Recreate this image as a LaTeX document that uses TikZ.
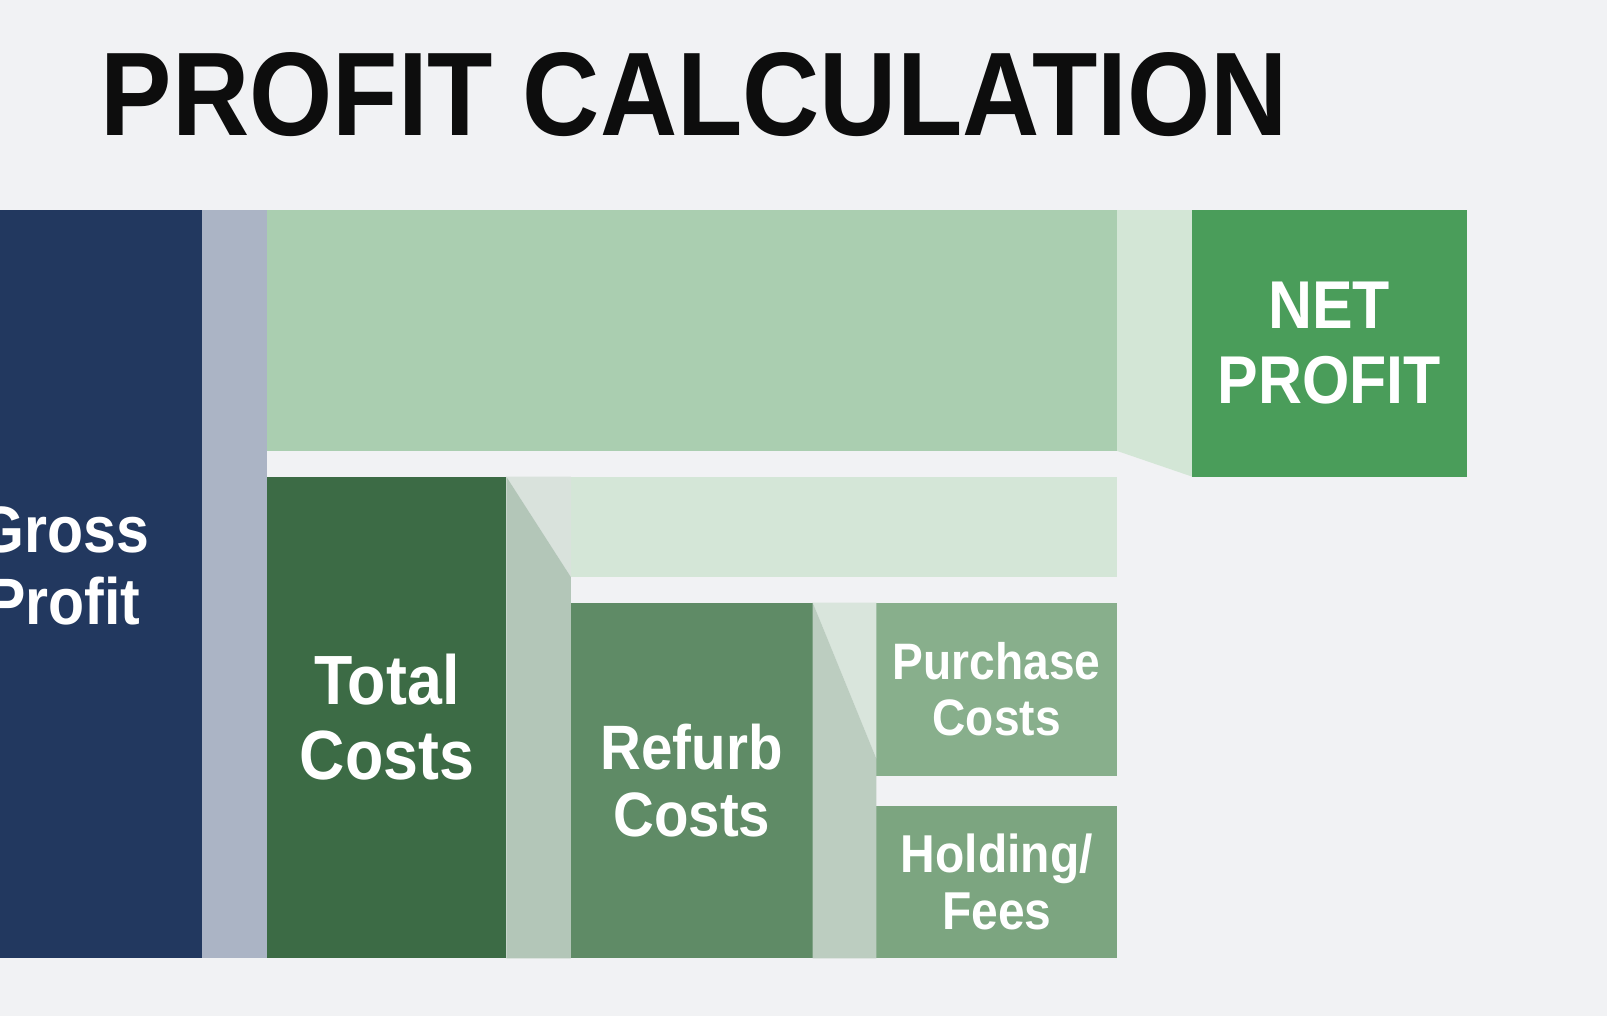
\documentclass[tikz,border=0pt]{standalone}
\usepackage{fontspec}
\newfontfamily\flowfont[FakeStretch=0.9]{Liberation Sans}

\definecolor{pagebg}{HTML}{F1F2F4}
\definecolor{grossblue}{HTML}{22385F}
\definecolor{grossflow}{HTML}{ABB4C5}
\definecolor{netband}{HTML}{AACEB0}
\definecolor{netflow}{HTML}{D3E6D6}
\definecolor{netgreen}{HTML}{4A9D5A}
\definecolor{totalgreen}{HTML}{3C6B45}
\definecolor{costband}{HTML}{D4E6D7}
\definecolor{costwedge}{HTML}{D9E2DC}
\definecolor{costflow}{HTML}{B3C6B8}
\definecolor{refurbgreen}{HTML}{5F8B66}
\definecolor{refurbwedge}{HTML}{D9E5DC}
\definecolor{refurbflow}{HTML}{BCCDC0}
\definecolor{purchgreen}{HTML}{88AF8C}
\definecolor{holdgreen}{HTML}{7CA580}

\begin{document}
\begin{tikzpicture}[x=.5pt, y=-.5pt,
	blk/.style 2 args = {inner sep=0pt, outer sep=0pt, anchor=north west, align=center,
		text=white, minimum width=#1*.5pt, minimum height=#2*.5pt},
	lbl/.style 2 args = {font=\flowfont\bfseries\fontsize{#1}{#2}\selectfont}]
	\clip (0,0) rectangle (1568,991);
	\fill[pagebg] (0,0) rectangle (1568,991);

	\node[anchor=base west, inner sep=0pt, lbl={58}{61}, text=black!95] (title) at (98,132) {PROFIT CALCULATION};

	%boxes
	\node[blk={269}{730}, fill=grossblue] (gross) at (-72,205) {};
	\node[lbl={32}{35}, text=white, align=center] (grosstext) at (62,552) {Gross\\Profit};
	\node[blk={829}{235}, fill=netband] (band1) at (261,205) {};
	\node[blk={268}{260}, fill=netgreen, lbl={33}{36.5}] (netprofit) at (1163,205) {NET\\PROFIT};
	\node[blk={233}{470}, fill=totalgreen, lbl={34}{36.5}] (total) at (261,465) {Total\\Costs};
	\node[blk={533}{98}, fill=costband] (band2) at (557,465) {};
	\node[blk={236}{347}, fill=refurbgreen, lbl={30.6}{32.5}] (refurb) at (557,588) {Refurb\\Costs};
	\node[blk={235}{169}, fill=purchgreen, lbl={25}{27.5}] (purchase) at (855,588) {Purchase\\Costs};
	\node[blk={235}{149}, fill=holdgreen, lbl={26}{28}] (holding) at (855,786) {Holding/\\Fees};
	\coordinate (bend) at (855,740);

	%flows between boxes
	\fill[grossflow] (gross.north east) -- (band1.north west) -- (total.south west) -- (gross.south east) -- cycle;
	\fill[netflow] (band1.north east) -- (netprofit.north west) -- (netprofit.south west) -- (band1.south east) -- cycle;
	\fill[costwedge] (total.north east) -- (band2.north west) -- (band2.south west) -- cycle;
	\fill[costflow] (total.north east) -- (band2.south west) -- (refurb.south west) -- (total.south east) -- cycle;
	\fill[refurbwedge] (refurb.north east) -- (purchase.north west) -- (bend) -- cycle;
	\fill[refurbflow] (refurb.north east) -- (bend) -- (holding.south west) -- (refurb.south east) -- cycle;
\end{tikzpicture}
\end{document}
